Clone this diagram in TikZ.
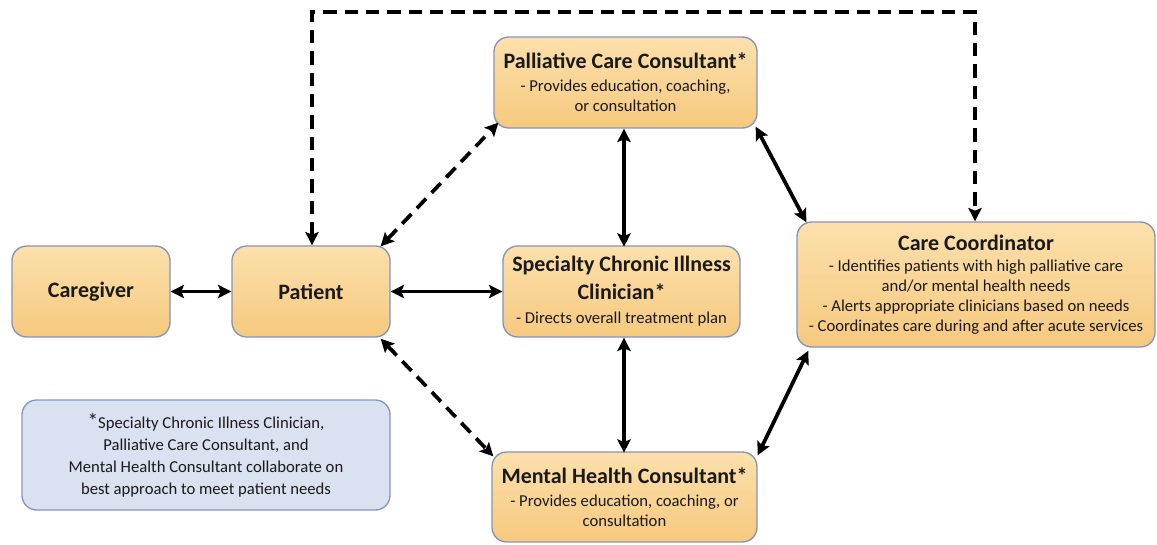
\documentclass[tikz,border=0pt]{standalone}
\usepackage{fontspec}
\setmainfont{Carlito}
\usetikzlibrary{arrows.meta,calc}
\definecolor{boxtop}{HTML}{FCE0AC}
\definecolor{boxbot}{HTML}{F6C97E}
\definecolor{boxedge}{HTML}{8394BE}
\definecolor{notefill}{HTML}{DAE2F2}
\definecolor{noteedge}{HTML}{8596BE}
\definecolor{txt}{HTML}{1A1A1A}
\tikzset{
  card/.style={draw=boxedge, line width=1pt, top color=boxtop, bottom color=boxbot,
    rounded corners=11pt, align=center, text=txt, inner sep=2pt, font=\fontsize{12.5}{15}\selectfont},
  notecard/.style={draw=noteedge, line width=1pt, fill=notefill,
    rounded corners=11pt, align=center, text=txt, inner sep=2pt, font=\fontsize{12.5}{16.5}\selectfont},
  link/.style={line width=2.8pt, black, {Stealth[length=10pt,width=10pt,inset=2pt]}-{Stealth[length=10pt,width=10pt,inset=2pt]}},
  dlink/.style={link, dash pattern=on 10pt off 6pt},
}
\newcommand{\bt}[1]{{\bfseries\fontsize{16.5}{19.5}\selectfont #1}}
\begin{document}
\begin{tikzpicture}[x=0.75pt,y=-0.75pt]
\useasboundingbox (0,0) rectangle (1157,544);
\node[card, minimum width={158*0.75pt}, minimum height={91*0.75pt}] (cg) at (91,291.5) {\bt{Caregiver}};
\node[card, minimum width={158*0.75pt}, minimum height={91*0.75pt}] (pt) at (311,291.5) {\bt{Patient}};
\node[card, minimum width={263*0.75pt}, minimum height={91*0.75pt}] (pc) at (625.5,82.5)
  {\bt{Palliative Care Consultant*}\\[2pt]- Provides education, coaching,\\or consultation};
\node[card, minimum width={237*0.75pt}, minimum height={91*0.75pt}] (sp) at (621.5,291.5)
  {\bt{Specialty Chronic Illness}\\[6pt]\bt{Clinician*}\\[3pt]- Directs overall treatment plan};
\node[card, minimum width={358*0.75pt}, minimum height={125*0.75pt}] (co) at (976,284.5)
  {\bt{Care Coordinator}\\[1pt]- Identifies patients with high palliative care\\and/or mental health needs\\- Alerts appropriate clinicians based on needs\\- Coordinates care during and after acute services};
\node[card, minimum width={265*0.75pt}, minimum height={90*0.75pt}] (mh) at (624.5,497)
  {\bt{Mental Health Consultant*}\\[2pt]- Provides education, coaching, or\\consultation};
\node[notecard, minimum width={368*0.75pt}, minimum height={110*0.75pt}] (nt) at (206,455)
  {{\fontsize{16}{14}\selectfont *}Specialty Chronic Illness Clinician,\\Palliative Care Consultant, and\\Mental Health Consultant collaborate on\\best approach to meet patient needs};
% connectors
\draw[link] (cg.east) -- (pt.west);
\draw[link] (pt.east) -- (sp.west);
\draw[link] ($(pc.south)+(-1.5,0)$) -- ($(pc.south)+(-1.5,118)$) coordinate (spn);
\draw[link] ($(sp.south)+(2.5,0)$) -- ($(sp.south)+(2.5,115)$) coordinate (mhn);
\draw[link] ($(pc.south east)+(-2,-2)$) -- ($(co.north west)+(10,1)$);
\draw[link] ($(mh.north east)+(0,4)$) -- ($(co.south west)+(12,3)$);
\draw[dlink] ($(pt.north east)+(-10,1)$) -- ($(pc.south west)+(5,-6)$);
\draw[dlink] ($(pt.south east)+(-10,1)$) -- ($(mh.north west)+(2,5)$);
\coordinate (tl) at ($(pt.north)+(1,0)$);
\draw[dlink, rounded corners=0pt] (tl) -- (tl |- 0,12) -- (975,12) -- (975,0 |- co.north);
\end{tikzpicture}
\end{document}
